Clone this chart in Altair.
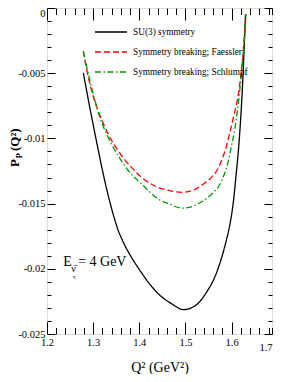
import altair as alt
import pandas as pd

# ---- data ----
series_names = ["SU(3) symmetry", "Symmetry breaking; Faessler", "Symmetry breaking; Schlumpf"]
series_colors = ["#000000", "#ff0000", "#009a00"]
series_dash = [[1, 0], [6, 3], [6, 2.5, 1.5, 2.5]]

q_su3 = [1.2787, 1.2888, 1.2997, 1.3105, 1.3213, 1.3322, 1.3430, 1.3538, 1.3668, 1.3820,
         1.4015, 1.4232, 1.4449, 1.4687, 1.4958, 1.5207, 1.5467, 1.5641, 1.5771, 1.5879,
         1.5966, 1.6041, 1.6095, 1.6150, 1.6193, 1.6236, 1.6269, 1.6301]
p_su3 = [-0.00497, -0.00690, -0.00889, -0.01080, -0.01264, -0.01432, -0.01577, -0.01700, -0.01807, -0.01906,
         -0.02013, -0.02120, -0.02204, -0.02265, -0.02313, -0.02284, -0.02174, -0.02059, -0.01929, -0.01791,
         -0.01654, -0.01478, -0.01287, -0.01080, -0.00866, -0.00599, -0.00331, -0.00050]

q_fae = [1.2787, 1.2867, 1.2969, 1.3112, 1.3328, 1.3545, 1.3798, 1.4052, 1.4412, 1.4665,
         1.4919, 1.5164, 1.5387, 1.5532, 1.5677, 1.5770, 1.5857, 1.5955, 1.6037, 1.6145,
         1.6219, 1.6269, 1.6312]
p_fae = [-0.00331, -0.00484, -0.00637, -0.00790, -0.00968, -0.01096, -0.01210, -0.01300, -0.01376, -0.01401,
         -0.01414, -0.01398, -0.01350, -0.01310, -0.01248, -0.01180, -0.01096, -0.00966, -0.00841, -0.00662,
         -0.00459, -0.00255, -0.00050]

q_sch = [1.2787, 1.2932, 1.3148, 1.3328, 1.3545, 1.3762, 1.4052, 1.4412, 1.4665, 1.4925,
         1.5164, 1.5387, 1.5575, 1.5749, 1.5929, 1.5998, 1.6074, 1.6182, 1.6254, 1.6312]
p_sch = [-0.00331, -0.00560, -0.00841, -0.00994, -0.01134, -0.01248, -0.01350, -0.01465, -0.01505, -0.01535,
         -0.01520, -0.01478, -0.01424, -0.01350, -0.01172, -0.01057, -0.00917, -0.00612, -0.00331, -0.00050]

x_tick_values = [1.2, 1.22, 1.24, 1.26, 1.28, 1.3, 1.32, 1.34, 1.36, 1.38, 1.4, 1.42, 1.44, 1.46, 1.48,
                 1.5, 1.52, 1.54, 1.56, 1.58, 1.6, 1.62, 1.64, 1.66, 1.68, 1.6875]
y_tick_values = [0, -0.001, -0.002, -0.003, -0.004, -0.005, -0.006, -0.007, -0.008, -0.009, -0.01,
                 -0.011, -0.012, -0.013, -0.014, -0.015, -0.016, -0.017, -0.018, -0.019, -0.02,
                 -0.021, -0.022, -0.023, -0.024, -0.025]
x_domain = [1.2, 1.6875]
y_domain = [-0.025, 0]

anno_q = [1.235]
anno_p = [-0.0198]

rows = []
for name, qs, ps in [(series_names[0], q_su3, p_su3), (series_names[1], q_fae, p_fae), (series_names[2], q_sch, p_sch)]:
    for q, p in zip(qs, ps):
        rows.append({"q": q, "p": p, "series": name})
df = pd.DataFrame(rows)
anno = pd.DataFrame({"q": anno_q, "p": anno_p})

FONT = "Liberation Serif"
x_major = "abs(datum.value*10 - round(datum.value*10)) < 0.001"
y_major = "abs(datum.value*200 - round(datum.value*200)) < 0.001"
x_edge = "datum.value > 1.685"

x_label_expr = f"{x_edge} ? '1.7' : ({x_major} ? format(datum.value, '.1f') : '')"
y_label_expr = f"datum.value == 0 ? '0' : ({y_major} ? '-' + format(-datum.value, '') : '')"

def x_axis(orient, labels):
    kw = dict(orient=orient, values=x_tick_values, domain=False, grid=False,
              tickSize={"condition": {"test": x_major, "value": -12}, "value": -6.5},
              tickColor="black", tickWidth=1, labelFlush=False, labelOverlap=False, labelBound=False)
    if labels:
        kw.update(labelExpr=x_label_expr, labelFont=FONT, labelFontSize=10.5, labelColor="black",
                  labelPadding=15, title="Q² (GeV²)", titleFont=FONT, titleFontSize=14,
                  titleFontWeight="normal", titleColor="black", titlePadding=7,
                  labelAlign={"condition": {"test": x_edge, "value": "right"}, "value": "center"})
    else:
        kw.update(labels=False, title=None)
    return alt.Axis(**kw)

def y_axis(orient, labels):
    kw = dict(orient=orient, values=y_tick_values, domain=False, grid=False,
              tickSize={"condition": {"test": y_major, "value": -8}, "value": -4},
              tickColor="black", tickWidth=1,
              labelOverlap=False, labelBound=False)
    if labels:
        kw.update(labelExpr=y_label_expr, labelFont=FONT, labelFontSize=10.5, labelColor="black",
                  labelPadding=10, title=None,
                  labelBaseline={"condition": {"test": "datum.value == 0", "value": "top"}, "value": "middle"})
    else:
        kw.update(labels=False, title=None)
    return alt.Axis(**kw)

xs = alt.Scale(domain=x_domain, nice=False, zero=False)
ys = alt.Scale(domain=y_domain, nice=False, zero=False)

lines = alt.Chart(df).mark_line(strokeWidth=1.3, interpolate="monotone").encode(
    x=alt.X("q:Q", scale=xs, axis=x_axis("bottom", True)),
    y=alt.Y("p:Q", scale=ys, axis=y_axis("left", True)),
    color=alt.Color("series:N", sort=series_names,
                    scale=alt.Scale(domain=series_names, range=series_colors),
                    legend=alt.Legend(orient="none", legendX=59, legendY=19, title=None, padding=0,
                                      symbolType="M-4,0H4", symbolSize=64, symbolStrokeWidth=1.5,
                                      labelFont=FONT, labelFontSize=9.3, labelColor="black",
                                      labelOffset=17, rowPadding=9)),
    strokeDash=alt.StrokeDash("series:N", sort=series_names,
                              scale=alt.Scale(domain=series_names, range=series_dash),
                              legend=None),
)

mirror = alt.Chart(df).mark_line(opacity=0).encode(
    x=alt.X("q:Q", scale=xs, axis=x_axis("top", False)),
    y=alt.Y("p:Q", scale=ys, axis=y_axis("right", False)),
    detail="series:N",
)

def ytitle_part(txt, size, xv, yv):
    return alt.Chart(anno).mark_text(text=txt, angle=270, align="left", baseline="alphabetic",
                                     font=FONT, fontWeight="bold", fontSize=size, color="black").encode(
        x=alt.value(xv), y=alt.value(yv))

yt1 = ytitle_part("P", 13, -28.5, 159)
yt2 = ytitle_part("P", 9, -25.5, 150.5)
yt3 = ytitle_part("(Q²)", 13, -28.5, 143)

def anno_part(txt, size, dx, dy):
    return alt.Chart(anno).mark_text(text=txt, align="left", baseline="alphabetic", font=FONT,
                                     fontSize=size, color="black", dx=dx, dy=dy).encode(
        x=alt.X("q:Q", scale=xs, axis=None), y=alt.Y("p:Q", scale=ys, axis=None))

a1 = anno_part("E", 14, 0, 0)
a2 = anno_part("ν\u0304", 10, 8, 6)
a3 = anno_part("τ", 7, 9.5, 13)
a4 = anno_part("= 4 GeV", 14, 15, 0)

chart = alt.layer(lines, mirror, yt1, yt2, yt3, a1, a2, a3, a4).resolve_axis(
    x="independent", y="independent"
).properties(
    width=225, height=326,
    autosize=alt.AutoSizeParams(type="none"),
    padding={"left": 39, "top": 0, "right": 4, "bottom": 40},
).configure_view(stroke="black", strokeWidth=1.2).configure(font=FONT, background="white")

chart.save("out.html", embed_options={"renderer": "svg", "actions": False})
